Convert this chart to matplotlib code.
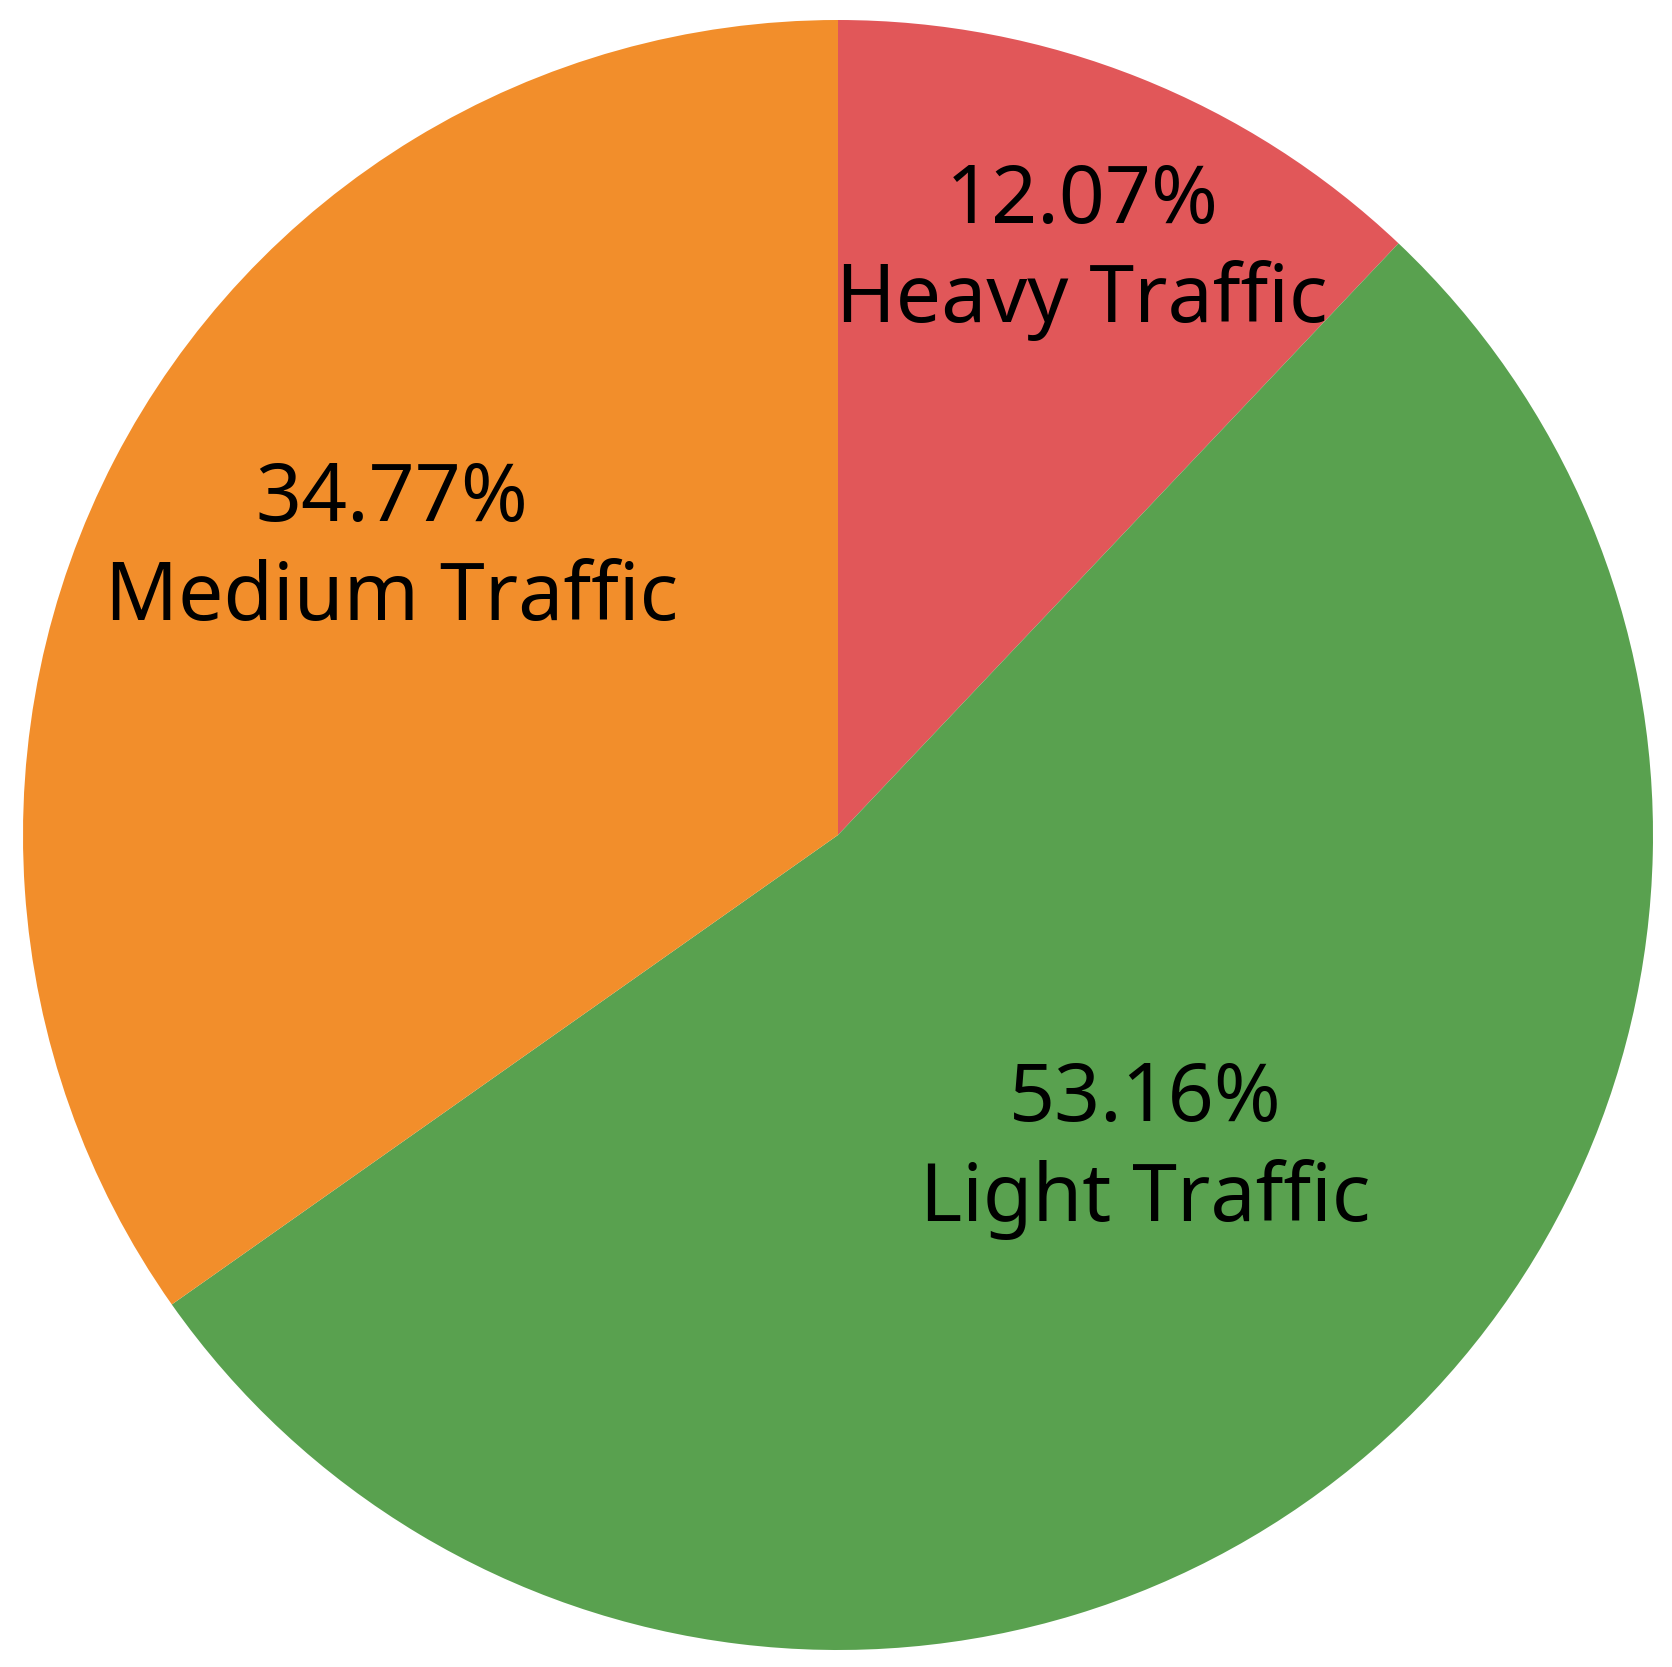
import matplotlib
matplotlib.use("Agg")
import matplotlib.pyplot as plt
import numpy as np

# data
categories = ["Heavy Traffic", "Light Traffic", "Medium Traffic"]
shares = [12.07, 53.16, 34.77]
colors = ["#E15759", "#59A14F", "#F28E2B"]

# label placement (radius as fraction of pie radius, angle in degrees)
label_radius = [0.776, 0.54, 0.65]
label_angle = [67.3, -45.7, 147.4]

plt.rcParams["font.family"] = ["Noto Sans", "DejaVu Sans"]

fig = plt.figure(figsize=(16.72, 16.67), dpi=100)
ax = fig.add_axes([23 / 1672, 16 / 1667, 1630 / 1672, 1632 / 1667])

wedges, _ = ax.pie(shares, colors=colors, startangle=90, counterclock=False,
                   wedgeprops=dict(linewidth=0), radius=1.0)

for name, val, r, a in zip(categories, shares, label_radius, label_angle):
    x = r * np.cos(np.radians(a))
    y = r * np.sin(np.radians(a))
    ax.text(x, y, f"{val:.2f}%\n{name}", ha="center", va="center",
            fontsize=58, fontweight="medium", linespacing=1.3, color="black")

ax.set_xlim(-1, 1)
ax.set_ylim(-1, 1)
ax.set_aspect("equal")
ax.axis("off")

fig.savefig("out.png", dpi=100, facecolor="white")
